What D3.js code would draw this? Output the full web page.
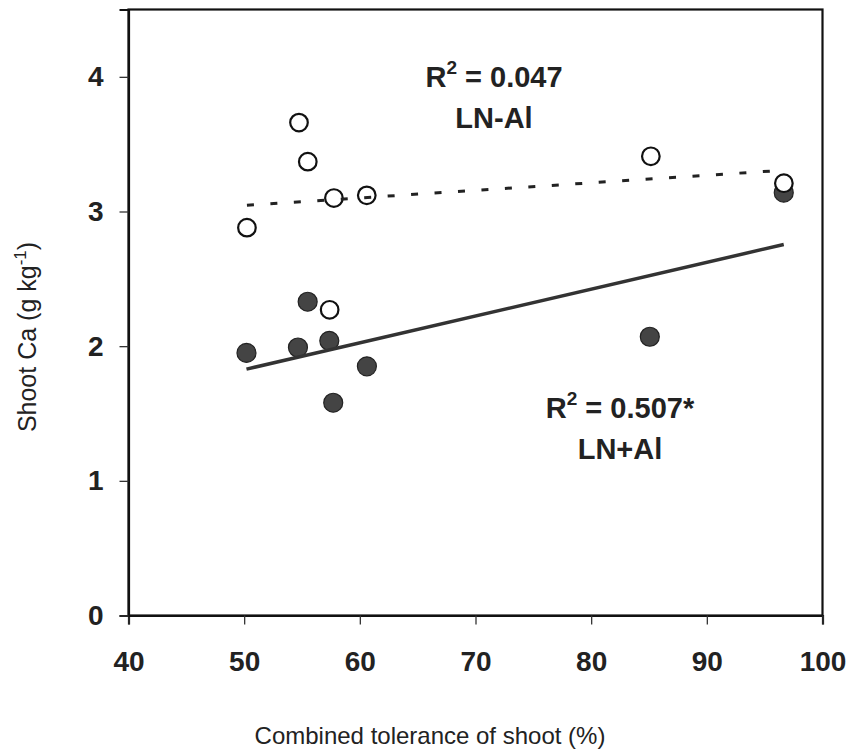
<!DOCTYPE html>
<html>
<head>
<meta charset="utf-8">
<script src="https://cdn.jsdelivr.net/npm/d3@7"></script>
<style>
  html, body { margin: 0; padding: 0; background: #fff; }
  svg { display: block; }
</style>
</head>
<body>
<svg id="chart" width="853" height="753"></svg>
<script>
// ---- data ----
const xTicks = [40, 50, 60, 70, 80, 90, 100];
const yTicks = [0, 1, 2, 3, 4];

// LN-Al (open circles)
const tolLNminusAl = [50.24, 54.74, 55.50, 57.76, 60.60, 85.16, 96.66, 57.39];
const caLNminusAl  = [2.88, 3.66, 3.37, 3.10, 3.12, 3.41, 3.21, 2.27];

// LN+Al (filled circles)
const tolLNplusAl = [50.20, 55.49, 54.65, 57.36, 60.61, 57.70, 85.07, 96.65];
const caLNplusAl  = [1.95, 2.33, 1.99, 2.04, 1.85, 1.58, 2.07, 3.14];

const labelMinus = ["R", "2", " = 0.047", "LN-Al"];
const labelPlus  = ["R", "2", " = 0.507*", "LN+Al"];

// ---- layout ----
const svg = d3.select("#chart");
const m = { left: 128.5, right: 822.5, top: 9.5, bottom: 615.5 };

const x = d3.scaleLinear().domain([40, 100]).range([m.left, m.right]);
const y = d3.scaleLinear().domain([0, 4.5]).range([m.bottom, m.top]);

function regression(xs, ys) {
  const n = xs.length;
  const mx = d3.mean(xs), my = d3.mean(ys);
  let sxy = 0, sxx = 0;
  for (let i = 0; i < n; i++) { sxy += (xs[i]-mx)*(ys[i]-my); sxx += (xs[i]-mx)**2; }
  const b = sxy / sxx, a = my - b * mx;
  const x0 = d3.min(xs), x1 = d3.max(xs);
  return [[x0, a + b * x0], [x1, a + b * x1]];
}

const fontBold = "'Liberation Sans', Arial, sans-serif";

// frame
svg.append("rect")
  .attr("x", m.left).attr("y", m.top)
  .attr("width", m.right - m.left).attr("height", m.bottom - m.top)
  .attr("fill", "none").attr("stroke", "#111").attr("stroke-width", 2.2);

// x axis
const xAxis = svg.append("g")
  .attr("transform", `translate(0,${m.bottom})`)
  .call(d3.axisBottom(x).tickValues(xTicks).tickSize(9).tickPadding(27).tickFormat(d3.format("d")));
xAxis.select(".domain").attr("stroke", "#111").attr("stroke-width", 2.2);
xAxis.selectAll(".tick line").attr("stroke", "#333").attr("stroke-width", 1.3);
xAxis.selectAll("text")
  .attr("font-family", fontBold).attr("font-weight", "bold").attr("font-size", 28)
  .attr("fill", "#222");

// y axis
const yAxis = svg.append("g")
  .attr("transform", `translate(${m.left},0)`)
  .call(d3.axisLeft(y).tickValues(yTicks).tickSize(9).tickPadding(16).tickFormat(d3.format("d")));
yAxis.select(".domain").attr("stroke", "#111").attr("stroke-width", 2.2);
yAxis.selectAll(".tick line").attr("stroke", "#333").attr("stroke-width", 1.3);
yAxis.selectAll("text")
  .attr("font-family", fontBold).attr("font-weight", "bold").attr("font-size", 28)
  .attr("fill", "#222");

// filled circles (LN+Al)
svg.append("g").selectAll("circle")
  .data(d3.zip(tolLNplusAl, caLNplusAl))
  .join("circle")
  .attr("cx", d => x(d[0])).attr("cy", d => y(d[1])).attr("r", 9.5)
  .attr("fill", "#444").attr("stroke", "#222").attr("stroke-width", 1.2);

// open circles (LN-Al)
svg.append("g").selectAll("circle")
  .data(d3.zip(tolLNminusAl, caLNminusAl))
  .join("circle")
  .attr("cx", d => x(d[0])).attr("cy", d => y(d[1])).attr("r", 8.8)
  .attr("fill", "#fff").attr("stroke", "#111").attr("stroke-width", 2.2);

const line = d3.line().x(d => x(d[0])).y(d => y(d[1]));

// regression lines
svg.append("path")
  .attr("d", line(regression(tolLNplusAl, caLNplusAl)))
  .attr("fill", "none").attr("stroke", "#333").attr("stroke-width", 3.5);

svg.append("path")
  .attr("d", line(regression(tolLNminusAl, caLNminusAl)))
  .attr("fill", "none").attr("stroke", "#222").attr("stroke-width", 3)
  .attr("stroke-dasharray", "7,16.5");

// annotations
function annot(cx, yBase1, yBase2, parts) {
  const t = svg.append("text")
    .attr("x", cx).attr("y", yBase1).attr("text-anchor", "middle")
    .attr("font-family", fontBold).attr("font-weight", "bold").attr("font-size", 29)
    .attr("fill", "#222");
  t.append("tspan").text(parts[0]);
  t.append("tspan").attr("dy", -13).attr("font-size", 19).text(parts[1]);
  t.append("tspan").attr("dy", 13).text(parts[2]);
  svg.append("text")
    .attr("x", cx).attr("y", yBase2).attr("text-anchor", "middle")
    .attr("font-family", fontBold).attr("font-weight", "bold").attr("font-size", 29)
    .attr("fill", "#222").text(parts[3]);
}
annot(494, 87, 128, labelMinus);
annot(620, 418, 459, labelPlus);

// axis titles
svg.append("text")
  .attr("x", 430).attr("y", 744).attr("text-anchor", "middle")
  .attr("font-family", "'Liberation Sans', Arial, sans-serif").attr("font-size", 24)
  .attr("fill", "#222").text("Combined tolerance of shoot (%)");

const yt = svg.append("text")
  .attr("transform", "translate(36,337) rotate(-90)")
  .attr("text-anchor", "middle")
  .attr("font-family", "'Liberation Sans', Arial, sans-serif").attr("font-size", 25)
  .attr("fill", "#222");
yt.append("tspan").text("Shoot Ca (g kg");
yt.append("tspan").attr("dy", -10).attr("font-size", 17).text("-1");
yt.append("tspan").attr("dy", 10).text(")");
</script>
</body>
</html>
